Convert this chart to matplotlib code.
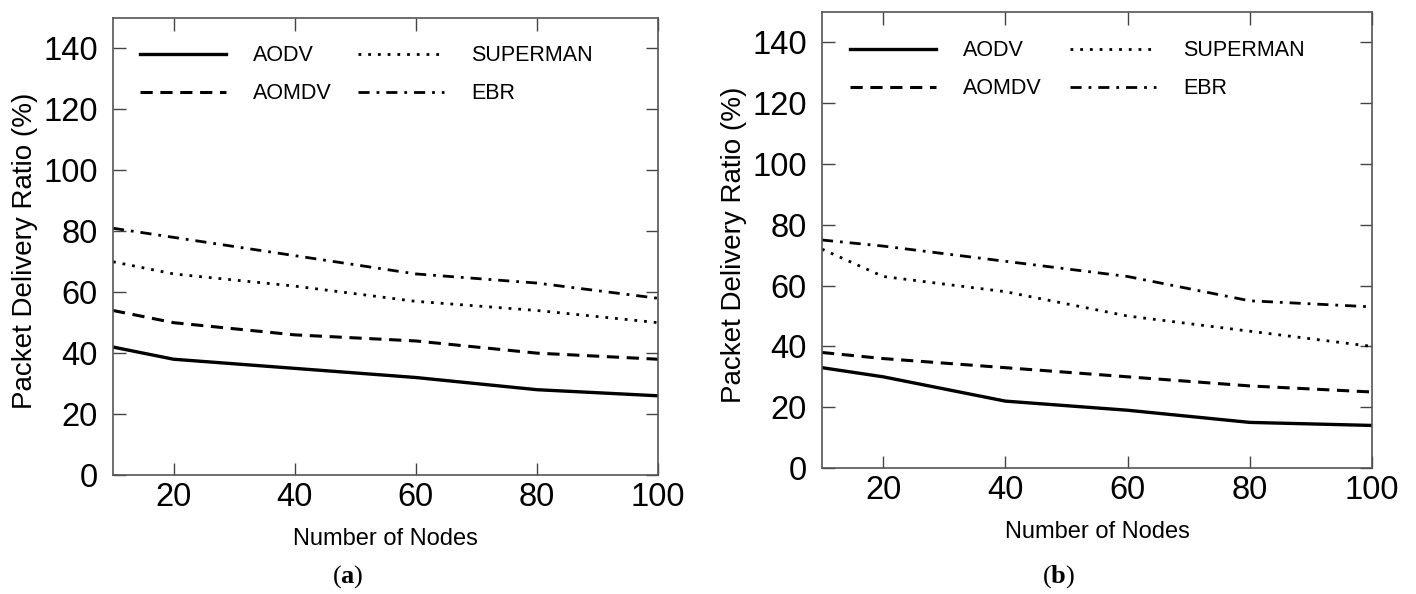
import matplotlib
matplotlib.use("Agg")
import matplotlib.pyplot as plt

plt.rcParams['font.family'] = ['Liberation Sans', 'DejaVu Sans']
plt.rcParams['mathtext.fontset'] = 'custom'
plt.rcParams['mathtext.rm'] = 'Liberation Serif'
plt.rcParams['mathtext.bf'] = 'Liberation Serif:bold'

nodes = [10, 20, 40, 60, 80, 100]
a_aodv = [42, 38, 35, 32, 28, 26]
a_aomdv = [54, 50, 46, 44, 40, 38]
a_superman = [70, 66, 62, 57, 54, 50]
a_ebr = [81, 78, 72, 66, 63, 58]

b_aodv = [33, 30, 22, 19, 15, 14]
b_aomdv = [38, 36, 33, 30, 27, 25]
b_superman = [72, 63, 58, 50, 45, 40]
b_ebr = [75, 73, 68, 63, 55, 53]

xticks = [20, 40, 60, 80, 100]
yticks = [0, 20, 40, 60, 80, 100, 120, 140]
xlabel = "Number of Nodes"
ylabel = "Packet Delivery Ratio (%)"

fig = plt.figure(figsize=(14.16, 5.94), dpi=100)
axA = fig.add_axes([113/1416, 1-475/594, 545/1416, 457/594])
axB = fig.add_axes([822/1416, 1-468/594, 550/1416, 456/594])

def draw(ax, aodv, aomdv, sup, ebr, leg_top, col2_x):
    l1, = ax.plot(nodes, aodv, color='black', lw=2.4, ls='-', label='AODV')
    l2, = ax.plot(nodes, aomdv, color='black', lw=2.2, ls=(0, (4, 2.5)), label='AOMDV')
    l3, = ax.plot(nodes, sup, color='black', lw=2.0, ls=(0, (1, 2.5)), label='SUPERMAN')
    l4, = ax.plot(nodes, ebr, color='black', lw=2.0, ls=(0, (4, 2.5, 1, 2.5)), label='EBR')
    ax.set_xlim(10, 100)
    ax.set_ylim(0, 150)
    ax.set_xticks(xticks)
    ax.set_yticks(yticks)
    ax.tick_params(direction='in', length=9, width=1, top=True, right=True,
                   labelsize=23.5, color='#444444')
    ax.tick_params(axis='y', pad=11)
    ax.tick_params(axis='x', pad=5)
    for s in ax.spines.values():
        s.set_color('#555555')
        s.set_linewidth(1.2)
    ax.set_xlabel(xlabel, fontsize=17)
    ax.set_ylabel(ylabel, fontsize=20)
    ax.xaxis.set_label_coords(0.5, -0.117)
    ax.yaxis.set_label_coords(-0.137, 0.49)
    kw = dict(loc='upper left', frameon=False, fontsize=15.5, handlelength=4.0,
              handletextpad=1.25, labelspacing=0.78, borderpad=0, borderaxespad=0)
    lg1 = ax.legend([l1, l2], ['AODV', 'AOMDV'], bbox_to_anchor=(0.05, leg_top), **kw)
    ax.add_artist(lg1)
    ax.legend([l3, l4], ['SUPERMAN', 'EBR'], bbox_to_anchor=(col2_x, leg_top), **kw)

draw(axA, a_aodv, a_aomdv, a_superman, a_ebr, 0.94, 0.4495)
draw(axB, b_aodv, b_aomdv, b_superman, b_ebr, 0.938, 0.451)

fig.text(348/1416, 1-577/594, r'($\mathbf{a}$)', ha='center', va='center', fontsize=19,
         family='Liberation Serif')
fig.text(1059/1416, 1-577/594, r'($\mathbf{b}$)', ha='center', va='center', fontsize=19,
         family='Liberation Serif')

fig.savefig('out.png', dpi=100)
